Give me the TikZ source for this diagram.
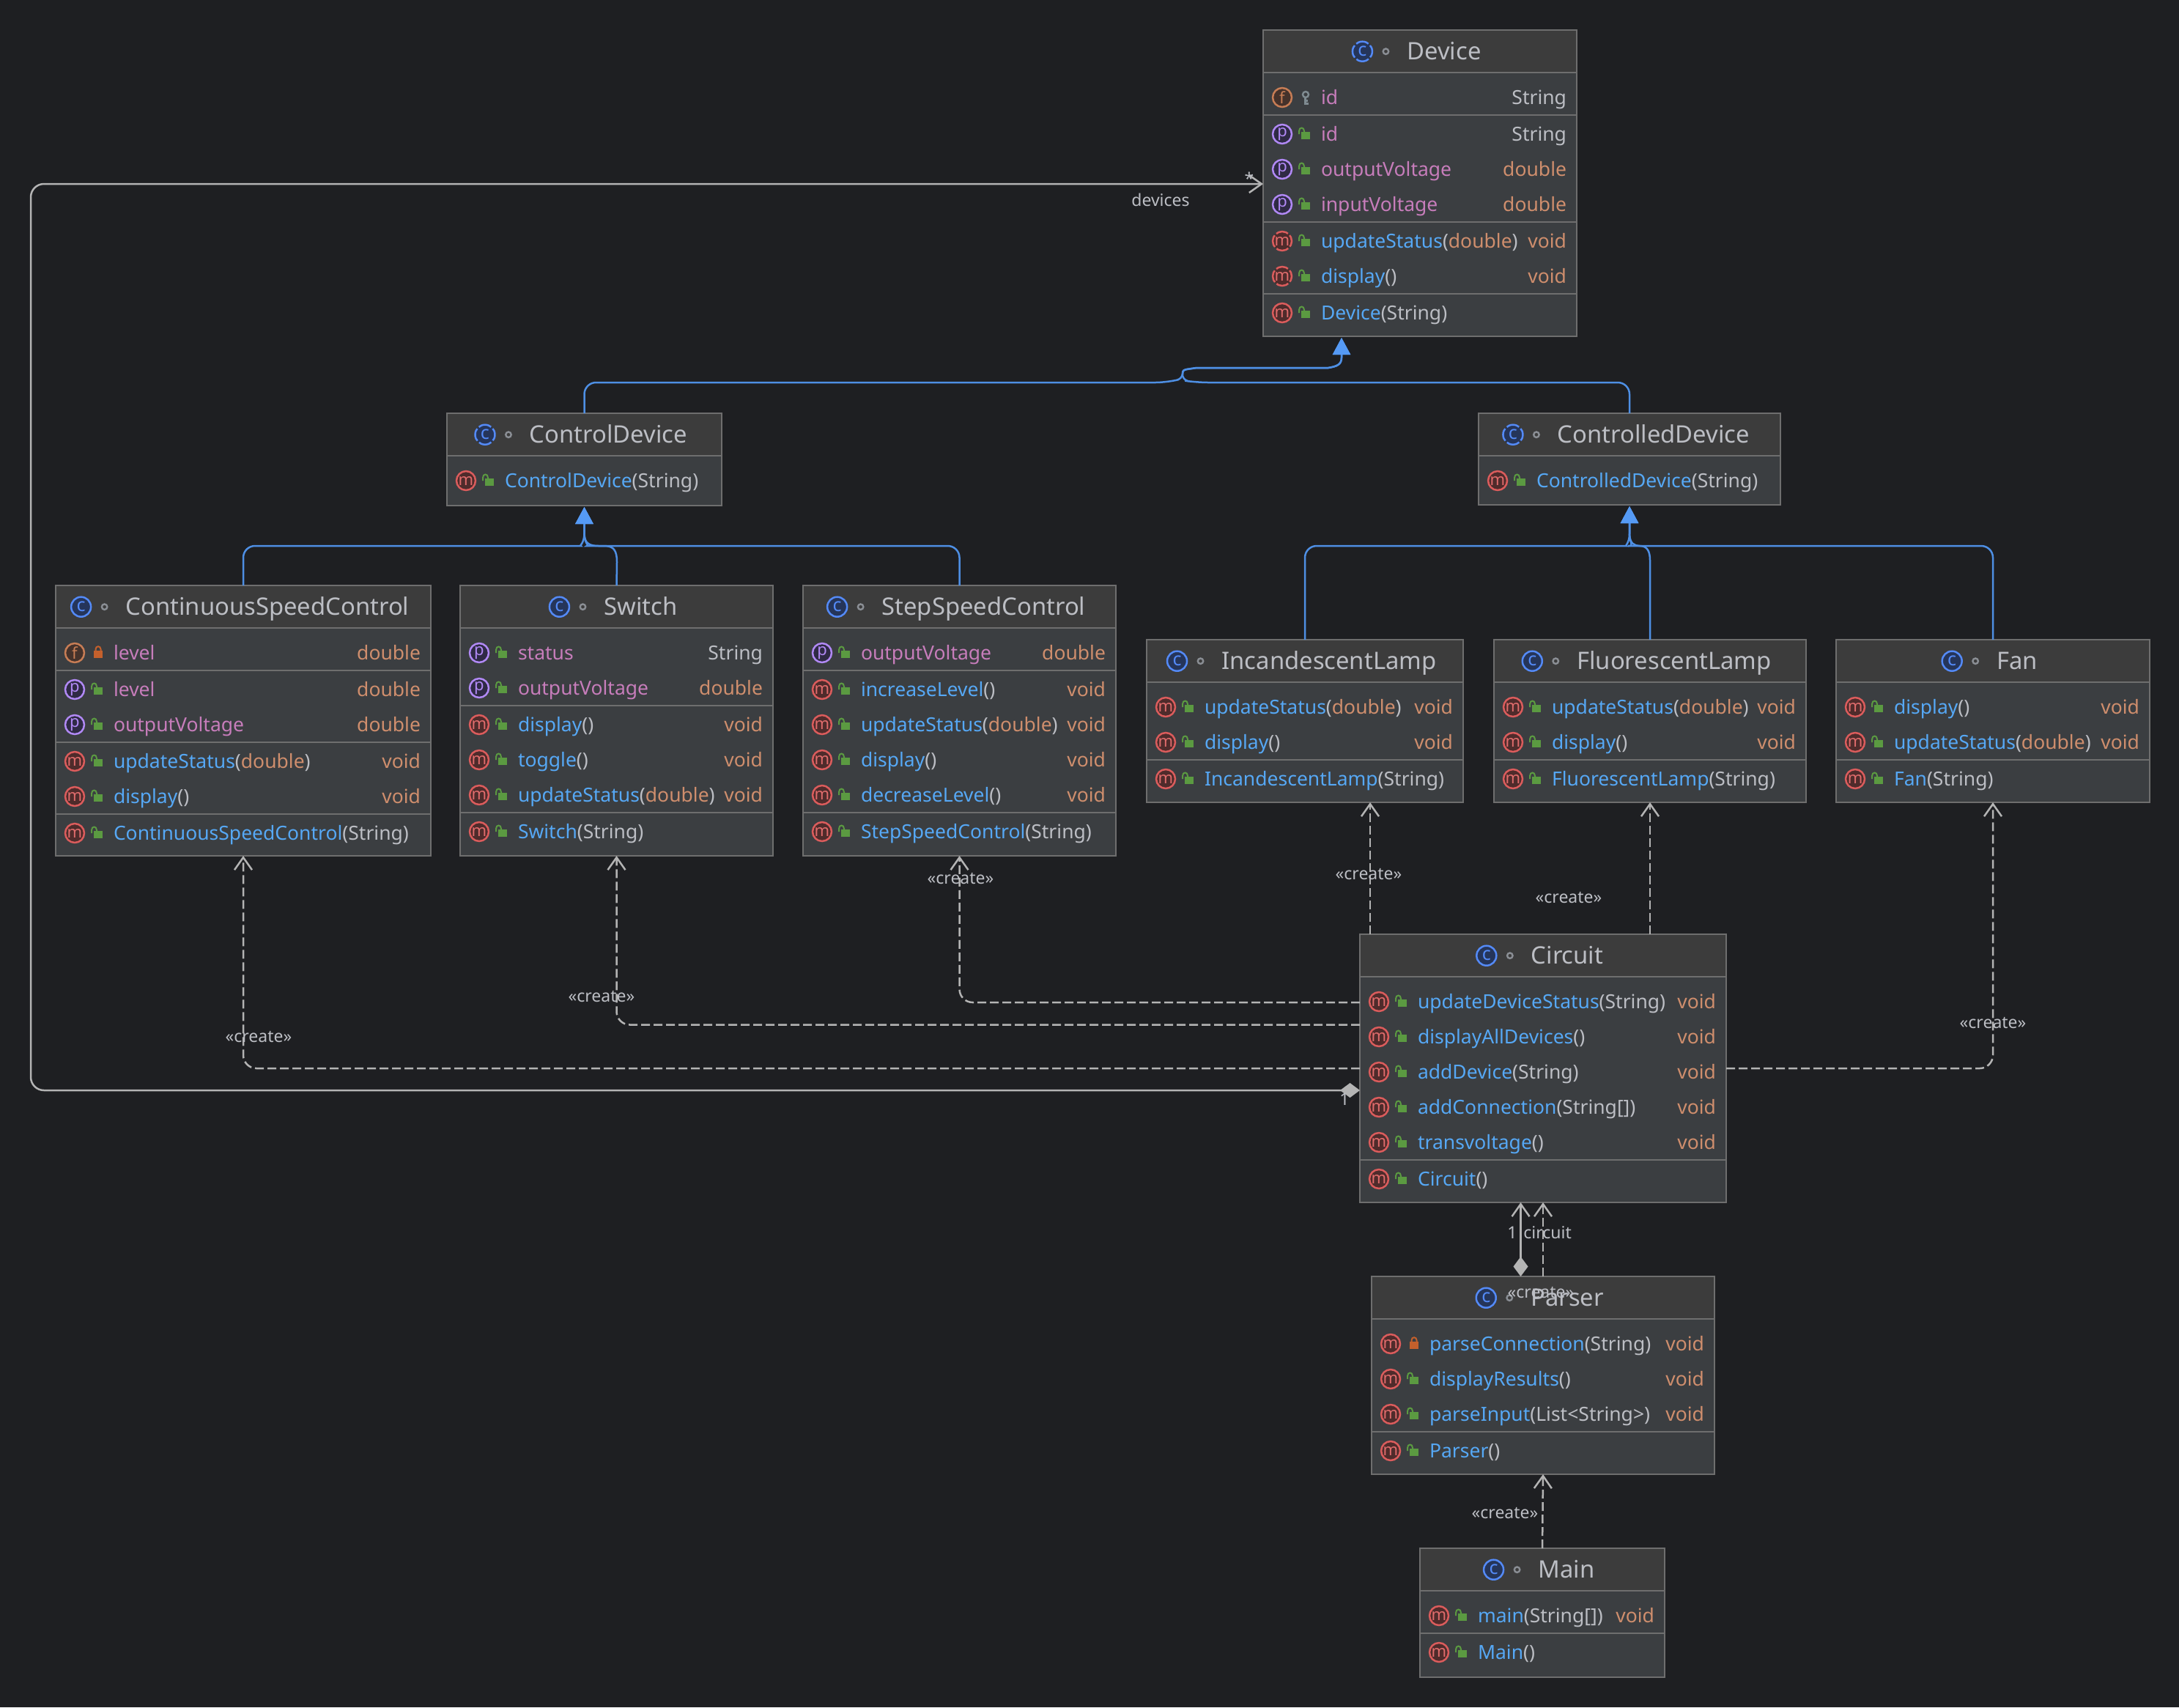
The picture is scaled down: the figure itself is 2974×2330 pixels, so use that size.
\documentclass[tikz,border=0pt]{standalone}
\usepackage{fontspec}
\setmainfont{Noto Sans}
\usetikzlibrary{arrows.meta,calc}
\definecolor{bgc}{HTML}{1E1F22}
\definecolor{hdrc}{HTML}{3C3C3C}
\definecolor{bodyc}{HTML}{3B3E41}
\definecolor{linec}{HTML}{6E6E6E}
\definecolor{textc}{HTML}{BCBEC4}
\definecolor{namec}{HTML}{56A8F5}
\definecolor{fieldc}{HTML}{C77DBB}
\definecolor{typec}{HTML}{CF8E6D}
\definecolor{connc}{HTML}{B4B4B4}
\definecolor{inhc}{HTML}{4E8FE4}
\definecolor{tipc}{HTML}{559AF5}
\definecolor{openc}{HTML}{5B9A41}
\definecolor{privc}{HTML}{C4602C}
\definecolor{keyc}{HTML}{7F8B91}
\definecolor{dotc}{HTML}{8A8E94}
\definecolor{icCs}{HTML}{548AF7}\definecolor{icCf}{HTML}{25355A}
\definecolor{icMs}{HTML}{DB5C5C}\definecolor{icMf}{HTML}{4F2B2B}
\definecolor{icPs}{HTML}{B189F5}\definecolor{icPf}{HTML}{2F2A45}
\definecolor{icFs}{HTML}{C77D55}\definecolor{icFf}{HTML}{45322B}
\newcount\cury \newcount\curl \newcount\curr \newcount\nid
\newcommand{\umlclass}[7]{% name, x1, x2, top, bottom, title, icon style
  \node[classbody,minimum width={(#3-#2)*0.5pt},minimum height={(#5-#4)*0.5pt}] (#1) at ({(#2+#3)/2},{(#4+#5)/2}) {};
  \node[classhead,minimum width={(#3-#2)*0.5pt}] (#1h) at ({(#2+#3)/2},{#4+29}) {};
  \draw[boxline] (#1.north west) rectangle (#1.south east);
  \draw[boxline] (#1h.south west) -- (#1h.south east);
  \node[titletext] (#1t) at ({(#2+#3)/2+33},{#4+40.7}) {#6};
  \node[#7] (#1i) at ($(#1t.base west)+(-61,-11.5)$) {c};
  \draw[dotmark] ($(#1t.base west)+(-29,-11.5)$) circle[radius=3.75];
  \curl=#2 \curr=#3 \cury=#4 \advance\cury by 92
}
\newcommand{\sepline}{%
  \advance\cury by -24
  \draw[boxline] (\the\curl,\the\cury) -- (\the\curr,\the\cury);
  \advance\cury by 26
}
\newcommand{\mbr}[5]{% icon style, letter, lock pic, left text, right text
  \advance\nid by 1
  \node[#1] (i\the\nid) at (\the\numexpr\curl+26\relax,\the\cury) {#2};
  \pic at (\the\numexpr\curl+58\relax,\the\cury) {#3};
  \node[lefttext] (l\the\nid) at (\the\numexpr\curl+79\relax,{\the\cury+9.5}) {#4};
  \node[righttext] (r\the\nid) at (\the\numexpr\curr-14\relax,{\the\cury+9.5}) {#5};
  \advance\cury by 48
}
\newcommand{\fn}[1]{\textcolor{fieldc}{#1}}
\newcommand{\ty}[1]{\textcolor{typec}{#1}}
\newcommand{\gt}[1]{\textcolor{textc}{#1}}
\newcommand{\mn}[2]{\textcolor{namec}{#1}\gt{(}#2\gt{)}}
\tikzset{
  x=0.5pt,y=-0.5pt,
  classbody/.style={rectangle,fill=bodyc,inner sep=0,outer sep=0},
  classhead/.style={rectangle,fill=hdrc,inner sep=0,outer sep=0,minimum height=29pt},
  boxline/.style={draw=linec,line width=1.2pt},
  titletext/.style={anchor=base,inner sep=0,outer sep=0,text=textc,font=\fontsize{16.4}{17}\selectfont},
  lefttext/.style={anchor=base west,inner sep=0,outer sep=0,font=\fontsize{13.25}{14}\selectfont},
  righttext/.style={anchor=base east,inner sep=0,outer sep=0,font=\fontsize{13.25}{14}\selectfont},
  icon/.style={circle,inner sep=0,outer sep=0,minimum size=13pt,line width=1.25pt,font=\fontsize{11}{11}\selectfont},
  icC/.style={icon,minimum size=13.5pt,draw=icCs,fill=icCf,text=icCs,font=\fontsize{12.5}{12}\selectfont},
  icCa/.style={icC,dash pattern=on 9pt off 1.6pt,dash phase=4.5pt},
  icM/.style={icon,draw=icMs,fill=icMf,text=icMs!90!white},
  icMa/.style={icM,dash pattern=on 8.6pt off 1.6pt,dash phase=4.3pt},
  icP/.style={icon,draw=icPs,fill=icPf,text=icPs},
  icF/.style={icon,draw=icFs,fill=icFf,text=icFs},
  dotmark/.style={draw=dotc,line width=1.2pt},
  oplock/.pic={
    \fill[openc] (-6,-3) rectangle (6,7);
    \draw[openc,line width=1pt] (-9,0) -- (-9,-4) .. controls (-9,-10) and (-2,-10) .. (-2,-4) -- (-2,-3);
  },
  prlock/.pic={
    \fill[privc] (-6,-3) rectangle (6,7);
    \draw[privc,line width=1pt] (-3.5,-3) -- (-3.5,-5) .. controls (-3.5,-10) and (3.5,-10) .. (3.5,-5) -- (3.5,-3);
  },
  keylock/.pic={
    \draw[keyc,line width=1.2pt] (0,-4) circle[radius=4];
    \draw[keyc,line width=1.5pt] (-1,0) -- (-1,8) -- (4,8) (-1,4) -- (3,4);
  },
  conn/.style={draw=connc,line width=1.25pt,rounded corners=9pt},
  create/.style={conn,dash pattern=on 6pt off 2.5pt,-{Straight Barb[length=8.5pt,width=12pt]}},
  owner/.style={conn,{Diamond[length=13.5pt,width=10pt,fill=connc]}-{Straight Barb[length=8.5pt,width=12pt]}},
  inh/.style={draw=inhc,line width=1.25pt,-{Triangle[length=11.5pt,width=12pt,fill=tipc,color=tipc]},shorten >=1pt},
  lbl/.style={inner sep=0,outer sep=0,text=textc,font=\fontsize{11.5}{12}\selectfont},
}
\begin{document}
\begin{tikzpicture}
\fill[bgc] (0,0) rectangle (2974,2330);
\useasboundingbox (0,0) rectangle (2974,2330);

\umlclass{dev}{1724}{2152}{41}{459}{Device}{icCa}
\mbr{icF}{f}{keylock}{\fn{id}}{\gt{String}}
\sepline
\mbr{icP}{p}{oplock}{\fn{id}}{\gt{String}}
\mbr{icP}{p}{oplock}{\fn{outputVoltage}}{\ty{double}}
\mbr{icP}{p}{oplock}{\fn{inputVoltage}}{\ty{double}}
\sepline
\mbr{icMa}{m}{oplock}{\mn{updateStatus}{\ty{double}}}{\ty{void}}
\mbr{icMa}{m}{oplock}{\mn{display}{}}{\ty{void}}
\sepline
\mbr{icM}{m}{oplock}{\mn{Device}{\gt{String}}}{}

\umlclass{cd}{610}{985}{564}{690}{ControlDevice}{icCa}
\mbr{icM}{m}{oplock}{\mn{ControlDevice}{\gt{String}}}{}

\umlclass{ced}{2018}{2430}{564}{689}{ControlledDevice}{icCa}
\mbr{icM}{m}{oplock}{\mn{ControlledDevice}{\gt{String}}}{}

\umlclass{csc}{76}{588}{799}{1168}{ContinuousSpeedControl}{icC}
\mbr{icF}{f}{prlock}{\fn{level}}{\ty{double}}
\sepline
\mbr{icP}{p}{oplock}{\fn{level}}{\ty{double}}
\mbr{icP}{p}{oplock}{\fn{outputVoltage}}{\ty{double}}
\sepline
\mbr{icM}{m}{oplock}{\mn{updateStatus}{\ty{double}}}{\ty{void}}
\mbr{icM}{m}{oplock}{\mn{display}{}}{\ty{void}}
\sepline
\mbr{icM}{m}{oplock}{\mn{ContinuousSpeedControl}{\gt{String}}}{}

\umlclass{sw}{628}{1055}{799}{1168}{Switch}{icC}
\mbr{icP}{p}{oplock}{\fn{status}}{\gt{String}}
\mbr{icP}{p}{oplock}{\fn{outputVoltage}}{\ty{double}}
\sepline
\mbr{icM}{m}{oplock}{\mn{display}{}}{\ty{void}}
\mbr{icM}{m}{oplock}{\mn{toggle}{}}{\ty{void}}
\mbr{icM}{m}{oplock}{\mn{updateStatus}{\ty{double}}}{\ty{void}}
\sepline
\mbr{icM}{m}{oplock}{\mn{Switch}{\gt{String}}}{}

\umlclass{ssc}{1096}{1523}{799}{1168}{StepSpeedControl}{icC}
\mbr{icP}{p}{oplock}{\fn{outputVoltage}}{\ty{double}}
\sepline
\mbr{icM}{m}{oplock}{\mn{increaseLevel}{}}{\ty{void}}
\mbr{icM}{m}{oplock}{\mn{updateStatus}{\ty{double}}}{\ty{void}}
\mbr{icM}{m}{oplock}{\mn{display}{}}{\ty{void}}
\mbr{icM}{m}{oplock}{\mn{decreaseLevel}{}}{\ty{void}}
\sepline
\mbr{icM}{m}{oplock}{\mn{StepSpeedControl}{\gt{String}}}{}

\umlclass{il}{1565}{1997}{873}{1095}{IncandescentLamp}{icC}
\mbr{icM}{m}{oplock}{\mn{updateStatus}{\ty{double}}}{\ty{void}}
\mbr{icM}{m}{oplock}{\mn{display}{}}{\ty{void}}
\sepline
\mbr{icM}{m}{oplock}{\mn{IncandescentLamp}{\gt{String}}}{}

\umlclass{fl}{2039}{2465}{873}{1095}{FluorescentLamp}{icC}
\mbr{icM}{m}{oplock}{\mn{updateStatus}{\ty{double}}}{\ty{void}}
\mbr{icM}{m}{oplock}{\mn{display}{}}{\ty{void}}
\sepline
\mbr{icM}{m}{oplock}{\mn{FluorescentLamp}{\gt{String}}}{}

\umlclass{fan}{2506}{2934}{873}{1095}{Fan}{icC}
\mbr{icM}{m}{oplock}{\mn{display}{}}{\ty{void}}
\mbr{icM}{m}{oplock}{\mn{updateStatus}{\ty{double}}}{\ty{void}}
\sepline
\mbr{icM}{m}{oplock}{\mn{Fan}{\gt{String}}}{}

\umlclass{cir}{1856}{2356}{1275}{1641}{Circuit}{icC}
\mbr{icM}{m}{oplock}{\mn{updateDeviceStatus}{\gt{String}}}{\ty{void}}
\mbr{icM}{m}{oplock}{\mn{displayAllDevices}{}}{\ty{void}}
\mbr{icM}{m}{oplock}{\mn{addDevice}{\gt{String}}}{\ty{void}}
\mbr{icM}{m}{oplock}{\mn{addConnection}{\gt{String[]}}}{\ty{void}}
\mbr{icM}{m}{oplock}{\mn{transvoltage}{}}{\ty{void}}
\sepline
\mbr{icM}{m}{oplock}{\mn{Circuit}{}}{}

\umlclass{par}{1872}{2340}{1742}{2012}{Parser}{icC}
\mbr{icM}{m}{prlock}{\mn{parseConnection}{\gt{String}}}{\ty{void}}
\mbr{icM}{m}{oplock}{\mn{displayResults}{}}{\ty{void}}
\mbr{icM}{m}{oplock}{\mn{parseInput}{\gt{List<String>}}}{\ty{void}}
\sepline
\mbr{icM}{m}{oplock}{\mn{Parser}{}}{}

\umlclass{mai}{1938}{2272}{2113}{2289}{Main}{icC}
\mbr{icM}{m}{oplock}{\mn{main}{\gt{String[]}}}{\ty{void}}
\sepline
\mbr{icM}{m}{oplock}{\mn{Main}{}}{}

% inheritance
\coordinate (devIn) at ($(dev.south)+(-107,0)$);
\draw[inh] (cd.north) [rounded corners=8pt] |- (1593,522) [sharp corners] -- (1605,519) .. controls (1611,517.5) and (1613,515) .. (1614,510) .. controls (1614,505) and (1616,504.5) .. (1623,503.5) -- (1633,502) -- (1813,502) .. controls (1824,500) and (1831,498) .. (1831,488) -- (devIn);
\draw[inh] (ced.north) [rounded corners=8pt] |- (1633,522) [sharp corners] -- (1623,520.5) .. controls (1618,519) and (1616,518) .. (1614,513) -- (1614,510) .. controls (1614,505) and (1616,504.5) .. (1623,503.5) -- (1633,502) -- (1813,502) .. controls (1824,500) and (1831,498) .. (1831,488) -- (devIn);
\draw[inh] (csc.north) [rounded corners=8pt] |- (777,745) [sharp corners] .. controls (790,745) and (797.5,742) .. (797.5,728) -- (cd.south);
\draw[inh] (sw.north) -- (842,767) .. controls (842,752) and (838,745) .. (825,745) -- (817,745) .. controls (805,745) and (797.5,742) .. (797.5,728) -- (cd.south);
\draw[inh] (ssc.north) [rounded corners=8pt] |- (817,745) [sharp corners] .. controls (805,745) and (797.5,742) .. (797.5,728) -- (cd.south);
\draw[inh] (il.north) [rounded corners=8pt] |- (2204,745) [sharp corners] .. controls (2217,745) and (2224,742) .. (2224,728) -- (ced.south);
\draw[inh] (fl.north) -- (2252,765) .. controls (2252,752) and (2248,745) .. (2238,745) .. controls (2231,745) and (2224,742) .. (2224,728) -- (ced.south);
\draw[inh] (fan.north) [rounded corners=8pt] |- (2238,745) [sharp corners] .. controls (2231,745) and (2224,742) .. (2224,728) -- (ced.south);

% dependencies
\draw[create] ($(cir.north west)+(0,93)$) -| (ssc.south);
\draw[create] ($(cir.north west)+(0,123.5)$) -| (sw.south);
\draw[create] ($(cir.north west)+(0,183)$) -| (csc.south);
\draw[create] ($(cir.north east)+(0,183)$) -| (fan.south);
\draw[create] ($(cir.north west)+(14,0)$) -- ($(il.south)+(89,0)$);
\draw[create] (cir.north -| fl.south) -- (fl.south);
\draw[create] (par.north) -- (cir.south);
\draw[create] (mai.north) -- (par.south);
\draw[owner] ($(par.north)+(-30.5,0)$) -- ($(cir.south)+(-30.5,0)$);
\draw[owner] ($(cir.north west)+(0,213)$) -- (42,1488) -- (42,251) -- (dev.west |- 0,251);

% labels
\node[lbl] (n1) at (1868,1193) {«create»};
\node[lbl] (n2) at (2141,1225) {«create»};
\node[lbl] (n3) at (1311,1199) {«create»};
\node[lbl] (n4) at (821,1360) {«create»};
\node[lbl] (n5) at (353,1415) {«create»};
\node[lbl] (n6) at (2720,1396) {«create»};
\node[lbl] (n7) at (2103,1764) {«create»};
\node[lbl] (n8) at (2054,2065) {«create»};
\node[lbl] (n9) at (1584,273) {devices};
\node[lbl] (n10) at (1705,244) {*};
\node[lbl] (n11) at (1835,1500) {1};
\node[lbl] (n12) at (2064,1682) {1};
\node[lbl] (n13) at (2112,1682) {circuit};
\end{tikzpicture}
\end{document}
